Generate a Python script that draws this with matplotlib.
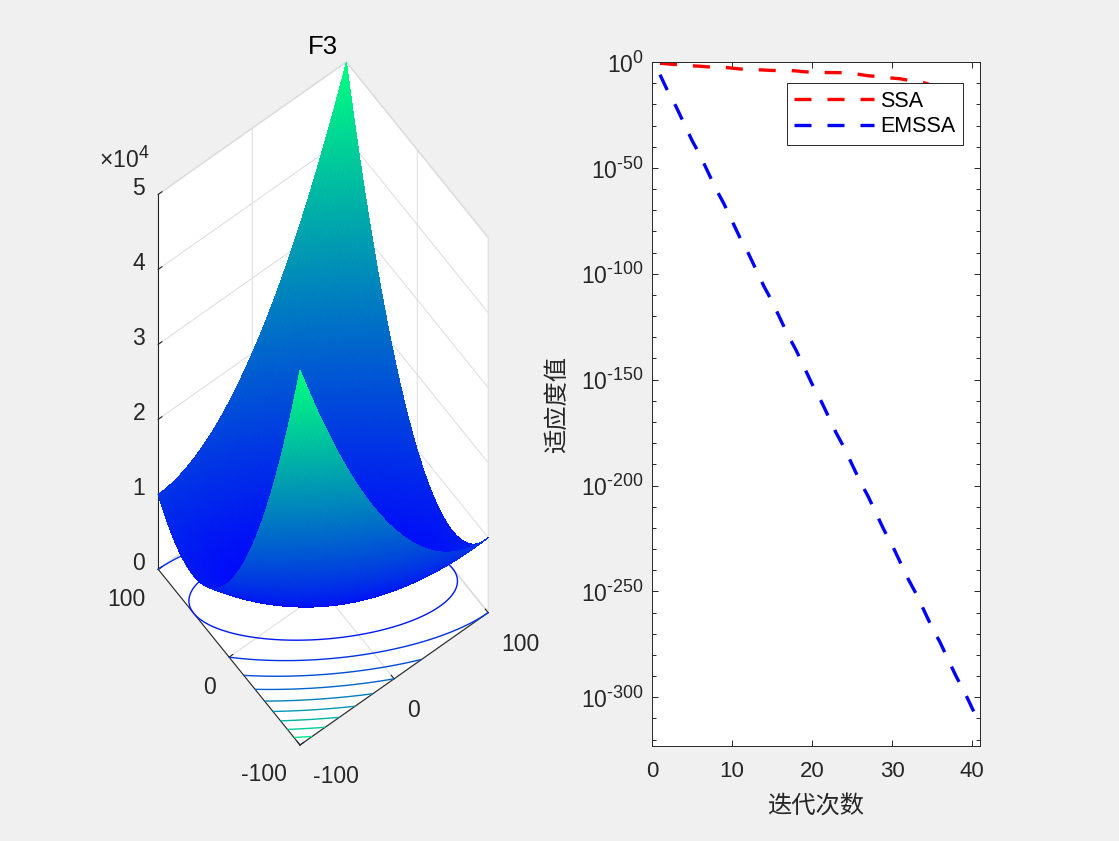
import numpy as np
import matplotlib
matplotlib.use('Agg')
import matplotlib.pyplot as plt
import matplotlib.ticker as tkr
import matplotlib._mathtext as mt
from matplotlib.colors import Normalize

plt.rcParams['font.family'] = ['Liberation Sans', 'Noto Sans CJK SC', 'DejaVu Sans']
plt.rcParams['mathtext.fontset'] = 'custom'
plt.rcParams['mathtext.rm'] = 'Liberation Sans'
plt.rcParams['mathtext.it'] = 'Liberation Sans:italic'
plt.rcParams['mathtext.bf'] = 'Liberation Sans:bold'
plt.rcParams['grid.color'] = '#dcdcdc'
plt.rcParams['grid.linewidth'] = 0.7
mt.SHRINK_FACTOR = 0.78  # MATLAB-like larger exponents

# ---- data ----
# F3 surface range and contour levels
x_range = (-100, 100)
z_max = 5e4
contour_levels = [5000, 10000, 15000, 20000, 25000, 30000, 35000, 40000, 45000]
z_ticks = [0, 10000, 20000, 30000, 40000, 50000]
z_ticklabels = ['0', '1', '2', '3', '4', '5']
xy_ticks = [-100, 0, 100]

# convergence curves (log10 of best fitness per iteration)
ssa_iter = np.arange(1, 39)
ssa_log = [-0.6, -0.9, -1.2, -1.5, -1.8, -2.0, -2.3, -2.4, -2.5, -2.9,
           -3.3, -3.5, -3.6, -3.8, -4.0, -4.0, -4.0, -4.2, -4.6, -4.8,
           -4.9, -5.0, -5.0, -5.1, -5.4, -5.9, -6.5, -6.8, -7.2, -7.6,
           -7.9, -8.6, -9.2, -9.8, -11.0, -13.0, -16.0, -20.0]
emssa_iter = np.arange(1, 42)
emssa_log = [-6, -14, -21, -29, -37, -44, -52, -60, -67, -75,
             -83, -90, -98, -106, -113, -121, -129, -136, -144, -152,
             -159, -167, -175, -182, -190, -198, -205, -213, -221, -228,
             -236, -244, -251, -259, -267, -274, -282, -290, -297, -305,
             -313]
y_major_exp = [0, -50, -100, -150, -200, -250, -300]
y_minor_exp = list(range(0, -324, -10))
x_ticks = [0, 10, 20, 30, 40]

W, H = 1119, 841
tc = '#262626'
fig = plt.figure(figsize=(W / 100, H / 100), dpi=100, facecolor='#f0f0f0')

# ---- left: 3D surface with contour ----
xs = np.linspace(x_range[0], x_range[1], 101)
X, Y = np.meshgrid(xs, xs)
Z = Y**2 + (X + Y)**2

side = 0.6
ax3 = fig.add_axes([0.02, 0.1, side * H / W, side], projection='3d',
                   computed_zorder=False)
ax3.set_proj_type('ortho')
ax3.view_init(elev=69, azim=-127)
ax3.set_box_aspect((1, 1, 4.44))
ax3.set_facecolor('#f0f0f0')

norm = Normalize(0, z_max)
ax3.contour(X, Y, Z, levels=contour_levels, zdir='z', offset=0,
            cmap='winter', norm=norm, linewidths=1.0, zorder=1)
ax3.plot_surface(X, Y, Z, cmap='winter', norm=norm, rstride=1, cstride=1,
                 linewidth=0, antialiased=False, shade=False, zorder=2)

ax3.set_xlim(x_range)
ax3.set_ylim(x_range)
ax3.set_zlim(0, z_max)
ax3.set_xticks(xy_ticks)
ax3.set_yticks(xy_ticks)
ax3.set_zticks(z_ticks)
ax3.set_xticklabels([])
ax3.set_yticklabels([])
ax3.set_zticklabels([])
for a in (ax3.xaxis, ax3.yaxis, ax3.zaxis):
    a.set_pane_color((1, 1, 1, 1))
    a.pane.set_edgecolor('#dcdcdc')
    a.line.set_color(tc)
    a.line.set_linewidth(0.8)
    a._axinfo['tick']['inward_factor'] = 0.0
    a._axinfo['tick']['outward_factor'] = 0.25
for nm in ('x', 'y', 'z'):
    ax3.tick_params(axis=nm, colors=tc)

# fit the projected box onto the reference pixel positions
def to_px(ax, x, y, z):
    M = ax.get_proj()
    v = M @ np.array([x, y, z, 1.0])
    return ax.transData.transform((v[0] / v[3], v[1] / v[3]))

front_t = (300, H - 745)
back_t = (346, H - 62)
for _ in range(3):
    fig.canvas.draw()
    pf = to_px(ax3, -100, -100, 0)
    pb = to_px(ax3, 100, 100, z_max)
    s = (back_t[1] - front_t[1]) / (pb[1] - pf[1])
    pos = ax3.get_position(original=True)
    cx = (pos.x0 + pos.x1) / 2 * W
    cy = (pos.y0 + pos.y1) / 2 * H
    w = pos.width * W * s
    h = pos.height * H * s
    ncx = front_t[0] - s * (pf[0] - cx)
    ncy = front_t[1] - s * (pf[1] - cy)
    ax3.set_position([(ncx - w / 2) / W, (ncy - h / 2) / H, w / W, h / H])
fig.canvas.draw()

# tick labels of the 3D box, placed like MATLAB does
def put(x, y, z, dx, dy, txt, ha):
    p = to_px(ax3, x, y, z)
    fig.text((p[0] + dx) / W, (p[1] - dy) / H, txt, ha=ha, va='center',
             fontsize=16.5, color=tc)

for v in xy_ticks:
    put(-100, v, 0, -13, 30, str(v), 'right')   # y axis, left front edge
    put(v, -100, 0, 13, 32, str(v), 'left')     # x axis, right front edge
for v, lab in zip(z_ticks, z_ticklabels):
    put(-100, 100, v, -13, -6, lab, 'right')

fig.text(323 / W, 1 - 47 / H, 'F3', ha='center', va='center', fontsize=18.5)
fig.text(99 / W, 1 - 168 / H, r'$\times\mathregular{10^{4}}$', ha='left',
         va='baseline', fontsize=16.5, color=tc)

# ---- right: convergence curves ----
ax2 = fig.add_axes([652 / W, 1 - 746 / H, 328 / W, 684 / H])
ax2.set_facecolor('white')
ax2.semilogy(ssa_iter, 10.0**np.array(ssa_log), color='#ff0000', lw=2.4,
             ls=(0, (5.1, 4.8)), label='SSA')
ax2.semilogy(emssa_iter, 10.0**np.array(emssa_log, dtype=float), color='#0000ff',
             lw=2.4, ls=(0, (5.1, 4.8)), label='EMSSA')
ax2.set_xlim(0, 41)
ax2.set_ylim(1e-323, 1)
ax2.set_xticks(x_ticks)
ax2.yaxis.set_major_locator(tkr.FixedLocator([10.0**k for k in y_major_exp]))
ax2.yaxis.set_major_formatter(tkr.FixedFormatter(
    [r'$\mathregular{10^{%s}}$' % str(k).replace('-', '\\text{-}') for k in y_major_exp]))
ax2.yaxis.set_minor_locator(tkr.FixedLocator(
    [10.0**k for k in y_minor_exp if k not in y_major_exp]))
ax2.yaxis.set_minor_formatter(tkr.NullFormatter())
ax2.tick_params(which='both', direction='in', top=True, right=True,
                colors=tc, width=0.7)
ax2.tick_params(which='major', length=4.3)
ax2.tick_params(which='minor', length=2.9)
ax2.tick_params(axis='x', labelsize=16, pad=11)
ax2.tick_params(axis='y', labelsize=16.5, pad=6)
for sp in ax2.spines.values():
    sp.set_color(tc)
    sp.set_linewidth(0.7)

ax2.set_xlabel('迭代次数', fontsize=17.5, color=tc,
               family=['Noto Sans CJK SC'], va='center')
ax2.xaxis.set_label_coords(0.5, -0.088)
ax2.set_ylabel('适应度值', fontsize=17.5, color=tc,
               family=['Noto Sans CJK SC'], va='center')
ax2.yaxis.set_label_coords(-0.29, 0.5)

leg = ax2.legend(loc='upper right', bbox_to_anchor=(0.948, 0.969),
                 borderaxespad=0, fontsize=15.5, fancybox=False, framealpha=1,
                 edgecolor=tc, handlelength=3.7, handletextpad=0.3,
                 labelspacing=0.2, borderpad=0.35)
leg.get_frame().set_linewidth(0.7)

plt.savefig('out.png', dpi=100, facecolor=fig.get_facecolor())
